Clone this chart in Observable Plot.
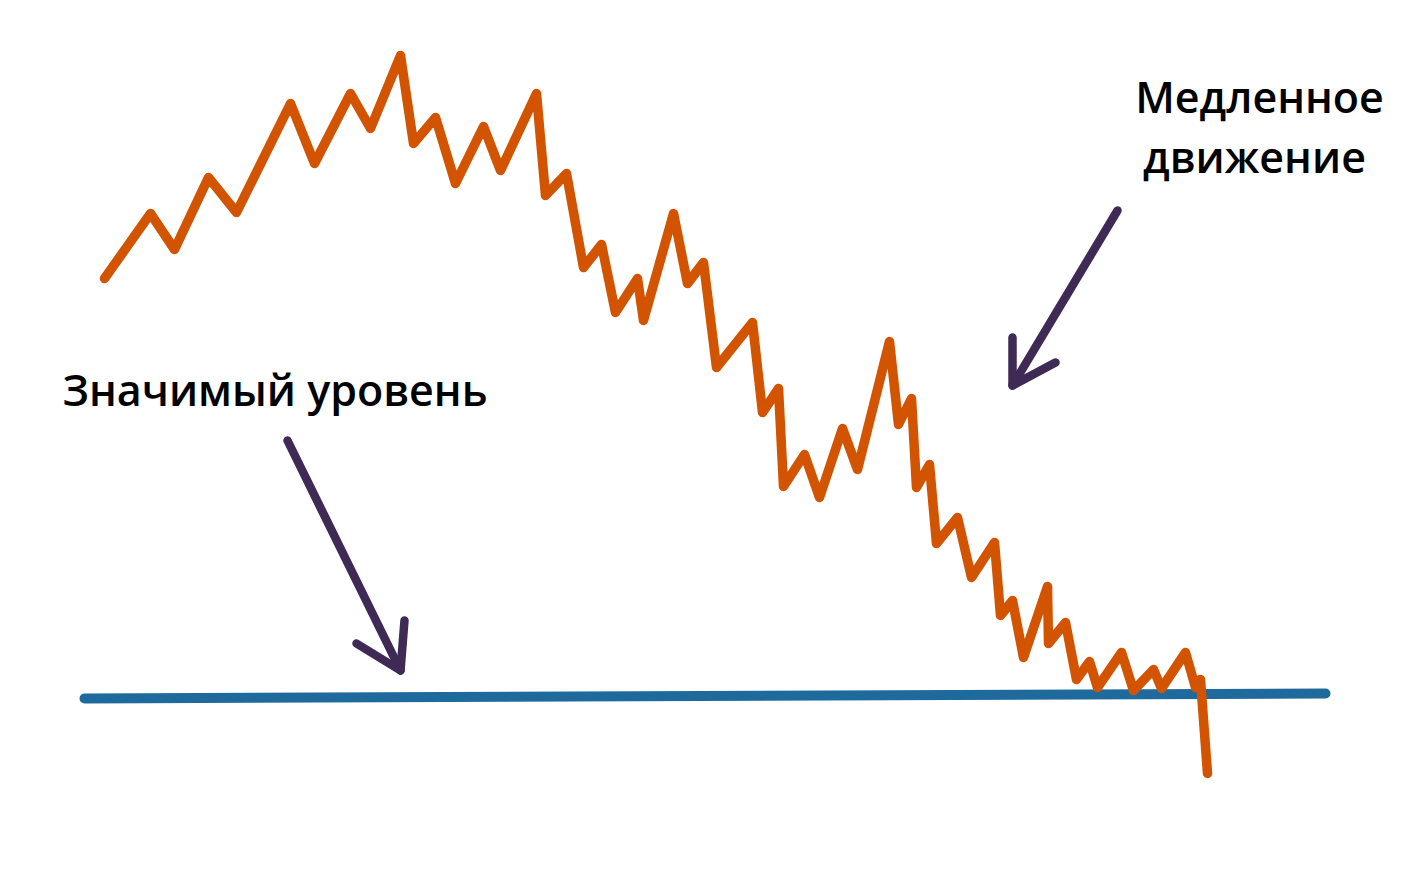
<!DOCTYPE html>
<html>
<head>
<meta charset="utf-8">
<script src="https://cdn.jsdelivr.net/npm/d3@7"></script>
<script src="https://cdn.jsdelivr.net/npm/@observablehq/plot@0.6"></script>
<style>
  html, body { margin: 0; padding: 0; background: #ffffff; }
  #chart svg { display: block; }
</style>
</head>
<body>
<div id="chart"></div>
<script>
// Price path (time, price)
const priceTime = [104,150,174,208,236,290,314,350,370,400,413,435,455,483,500,536,545,566,583,601,615,637,643,673,687,703,716,752,762,778,783,804,819,842,857,889,898,911,916,929,936,957,971,994,1000,1012,1023,1047,1048,1065,1076,1089,1097,1121,1133,1153,1161,1185,1195,1200,1207];
const priceValue = [610,675,639,711,676,785,725,795,760,833,745,771,705,762,718,795,693,715,621,644,576,610,568,675,605,626,521,566,476,500,402,434,391,460,419,547,464,490,401,424,345,371,311,346,273,288,231,302,245,266,209,227,201,236,198,219,200,236,201,209,115];

// Significant level (support) line
const levelTime = [84, 1325];
const levelValue = [190, 195];

// Annotation arrows (shaft + two wings each)
const arrowId = ["a1","a1","a1h","a1h","a1h","a2","a2","a2h","a2h","a2h"];
const arrowTime = [287,400,356,400,404,1117,1012,1012,1012,1055];
const arrowValue = [448,218,245,218,268,678,503,551,503,526];

// Labels
const labelText = ["Значимый уровень", "Медленное", "движение"];
const labelTime = [62, 1259, 1254];
const labelValue = [483, 776, 716];
const labelAnchor = ["start", "middle", "middle"];

const price = priceTime.map((t, i) => ({t, v: priceValue[i]}));
const level = levelTime.map((t, i) => ({t, v: levelValue[i]}));
const arrows = arrowTime.map((t, i) => ({id: arrowId[i], t, v: arrowValue[i]}));
const labels = labelText.map((s, i) => ({s, t: labelTime[i], v: labelValue[i], a: labelAnchor[i]}));

const chart = Plot.plot({
  width: 1415,
  height: 888,
  margin: 0,
  x: {domain: [0, 1415], axis: null},
  y: {domain: [0, 888], axis: null},
  style: {background: "#ffffff"},
  marks: [
    Plot.line(level, {x: "t", y: "v", stroke: "#1f6a9c", strokeWidth: 10, strokeLinecap: "round"}),
    Plot.line(price, {x: "t", y: "v", stroke: "#d35400", strokeWidth: 9.5, strokeLinecap: "round", strokeLinejoin: "round"}),
    Plot.line(arrows, {x: "t", y: "v", z: "id", stroke: "#3f2a56", strokeWidth: 8.5, strokeLinecap: "round", strokeLinejoin: "round"}),
    Plot.text(labels.filter(d => d.a === "start"), {x: "t", y: "v", text: "s", textAnchor: "start", lineAnchor: "bottom", fontSize: 43, fontWeight: 600, fontFamily: "Open Sans", fill: "#000000"}),
    Plot.text(labels.filter(d => d.a === "middle"), {x: "t", y: "v", text: "s", textAnchor: "middle", lineAnchor: "bottom", fontSize: 43, fontWeight: 600, fontFamily: "Open Sans", fill: "#000000"})
  ]
});
document.getElementById("chart").appendChild(chart);
</script>
</body>
</html>
